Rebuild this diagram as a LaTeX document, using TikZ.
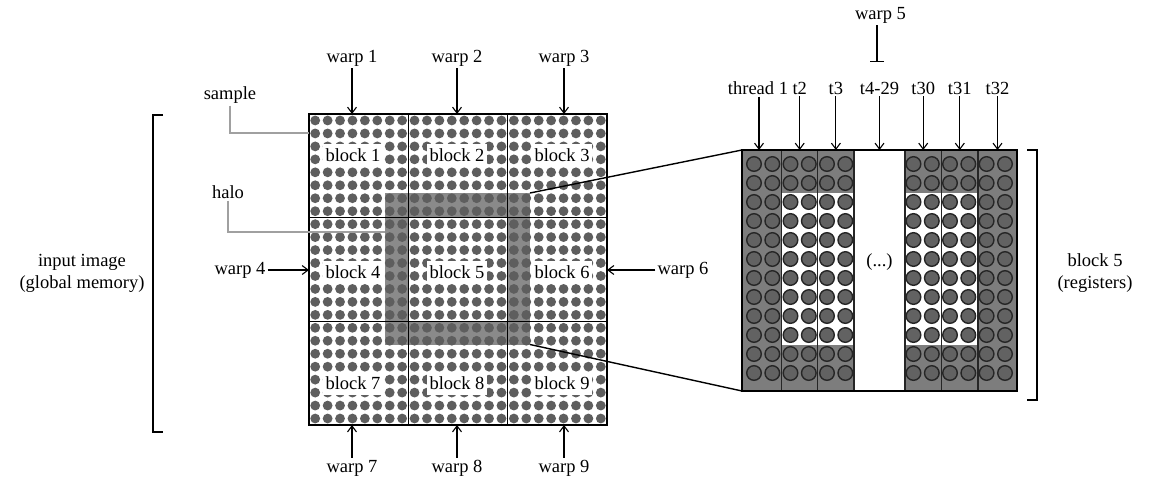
\documentclass[tikz,border=0pt]{standalone}
\usepackage{fontspec}
\setmainfont{Liberation Serif}
\usetikzlibrary{arrows.meta}
\definecolor{dotc}{HTML}{5E5E5E}
\definecolor{haloc}{HTML}{8A8A8A}
\definecolor{rgray}{HTML}{7D7D7D}
\definecolor{rdotc}{HTML}{626262}
\definecolor{rdotl}{HTML}{262626}
\definecolor{leadc}{HTML}{A0A0A0}
\tikzset{
  lbl/.style={inner sep=2pt},
  blk/.style={fill=white, inner xsep=3pt, inner ysep=4.5pt, text height=13pt, text depth=1pt},
  arr/.style={-{Straight Barb[length=6pt,width=9pt]}, line width=1.1pt},
  barend/.style={-{Bar[width=14pt,line width=1.3pt]}, line width=1.3pt},
  leader/.style={draw=leadc, line width=1.2pt},
  zline/.style={line width=1.4pt},
  rdot/.style={fill=rdotc, draw=rdotl, line width=1.4pt},
  gline/.style={line width=1pt},
  rline/.style={line width=1.3pt, draw=black!85},
  brk/.style={line width=1.1pt}
}
\begin{document}
\begin{tikzpicture}[x=1pt,y=-1pt,font=\fontsize{18.5}{22}\selectfont]
\useasboundingbox (0,0) rectangle (1159,493);
% ---------- left grid ----------
\fill[haloc] (385,193) rectangle (530,344.5);
\fill[white] (408.3,217.7) rectangle (507.7,321.3);
\foreach \i in {0,...,23}{
  \foreach \j in {0,...,23}{
    \fill[dotc] ({309+12.417*(\i+0.5)},{114+12.958*(\j+0.5)}) circle[radius=4.9];
  }
}
\node[blk] (b1) at (353,155) {block 1};
\node[blk] (b2) at (457,155) {block 2};
\node[blk] (b3) at (562,155) {block 3};
\node[blk] (b4) at (353,272) {block 4};
\node[blk] (b5) at (457,272) {block 5};
\node[blk] (b6) at (562,272) {block 6};
\node[blk] (b7) at (353,383) {block 7};
\node[blk] (b8) at (457,383) {block 8};
\node[blk] (b9) at (562,383) {block 9};
\draw[gline] (408.3,114) -- (408.3,425);
\draw[gline] (507.7,114) -- (507.7,425);
\draw[gline] (309,217.7) -- (607,217.7);
\draw[gline] (309,321.3) -- (607,321.3);
\draw[line width=1.8pt] (309,114) rectangle (607,425);
% grid anchor coordinates
\coordinate (g1t) at (352,114);
\coordinate (g2t) at (457,114);
\coordinate (g3t) at (564,114);
\coordinate (g1b) at (352,425);
\coordinate (g2b) at (457,425);
\coordinate (g3b) at (564,425);
\coordinate (gl) at (309,270);
\coordinate (gr) at (607,270);
\coordinate (sampt) at (309,133);
\coordinate (halpt) at (385,232);
\coordinate (htr) at (530,193);
\coordinate (hbr) at (530,344.5);
% warp labels
\node[lbl] (w1) at (352,58) {warp 1};
\node[lbl] (w2) at (457,58) {warp 2};
\node[lbl] (w3) at (564,58) {warp 3};
\node[lbl] (w7) at (352,468) {warp 7};
\node[lbl] (w8) at (457,468) {warp 8};
\node[lbl] (w9) at (564,468) {warp 9};
\node[lbl] (w4) at (240,270) {warp 4};
\node[lbl] (w6) at (683,270) {warp 6};
\draw[arr] (w1) -- (g1t);
\draw[arr] (w2) -- (g2t);
\draw[arr] (w3) -- (g3t);
\draw[arr] (w7) -- (g1b);
\draw[arr] (w8) -- (g2b);
\draw[arr] (w9) -- (g3b);
\draw[arr] (w4) -- (gl);
\draw[arr] (w6) -- (gr);
% sample / halo leaders
\node[lbl] (smp) at (230,95) {sample};
\node[lbl] (hal) at (228,192) {halo};
\draw[leader] (smp.south) |- (sampt);
\draw[leader] (hal.south) |- (halpt);
% left bracket
\draw[brk] (163,115) -- (153,115) -- (153,432) -- (163,432);
\node[lbl, align=center] (inp) at (82,273) {input image\\(global memory)};
% ---------- right block ----------
\fill[rgray] (742,150) rectangle (781.5,391);
\fill[rgray] (978,150) rectangle (1017,391);
\fill[rgray] (781.5,150) rectangle (854,192.5);
\fill[rgray] (781.5,345) rectangle (854,391);
\fill[rgray] (905,150) rectangle (978,192.5);
\fill[rgray] (905,345) rectangle (978,391);
\foreach \x in {754,772.3,790.5,808.8,827,845.3,913.5,931.8,950,968.3,986.6,1005}{
  \foreach \k in {0,...,11}{
    \filldraw[rdot] (\x,{164+19*\k}) circle[radius=7.3];
  }
}
\foreach \x in {781.5,817.8,854,905,941.5,978}{
  \draw[rline] (\x,150) -- (\x,391);
}
\draw[line width=2pt] (742,150) rectangle (1017,391);
\node[lbl] (dots) at (879.5,262) {(...)};
\coordinate (rtl) at (742,150);
\coordinate (rbl) at (742,391);
\draw[zline] (htr) -- (rtl);
\draw[zline] (hbr) -- (rbl);
% thread labels
\node[lbl] (t1) at (758,88) {thread 1};
\node[lbl] (t2) at (799.7,88) {t2};
\node[lbl] (t3) at (835.9,88) {t3};
\node[lbl] (t4) at (879.5,88) {t4-29};
\node[lbl] (t30) at (923.2,88) {t30};
\node[lbl] (t31) at (959.8,88) {t31};
\node[lbl] (t32) at (997.5,88) {t32};
\foreach \n/\x in {t1/759,t2/799.7,t3/835.9,t4/879.5,t30/923.2,t31/959.8,t32/997.5}{
  \coordinate (\n e) at (\x,150);
  \draw[arr] (\n.south -| \n e) -- (\n e);
}
\node[lbl] (w5) at (880.5,15) {warp 5};
\coordinate (w5e) at (877,62);
\draw[barend] (w5.south -| w5e) -- (w5e);
% right bracket
\draw[brk] (1027,150) -- (1037,150) -- (1037,400) -- (1027,400);
\node[lbl, align=center] (reg) at (1095,273) {block 5\\(registers)};
\end{tikzpicture}
\end{document}
